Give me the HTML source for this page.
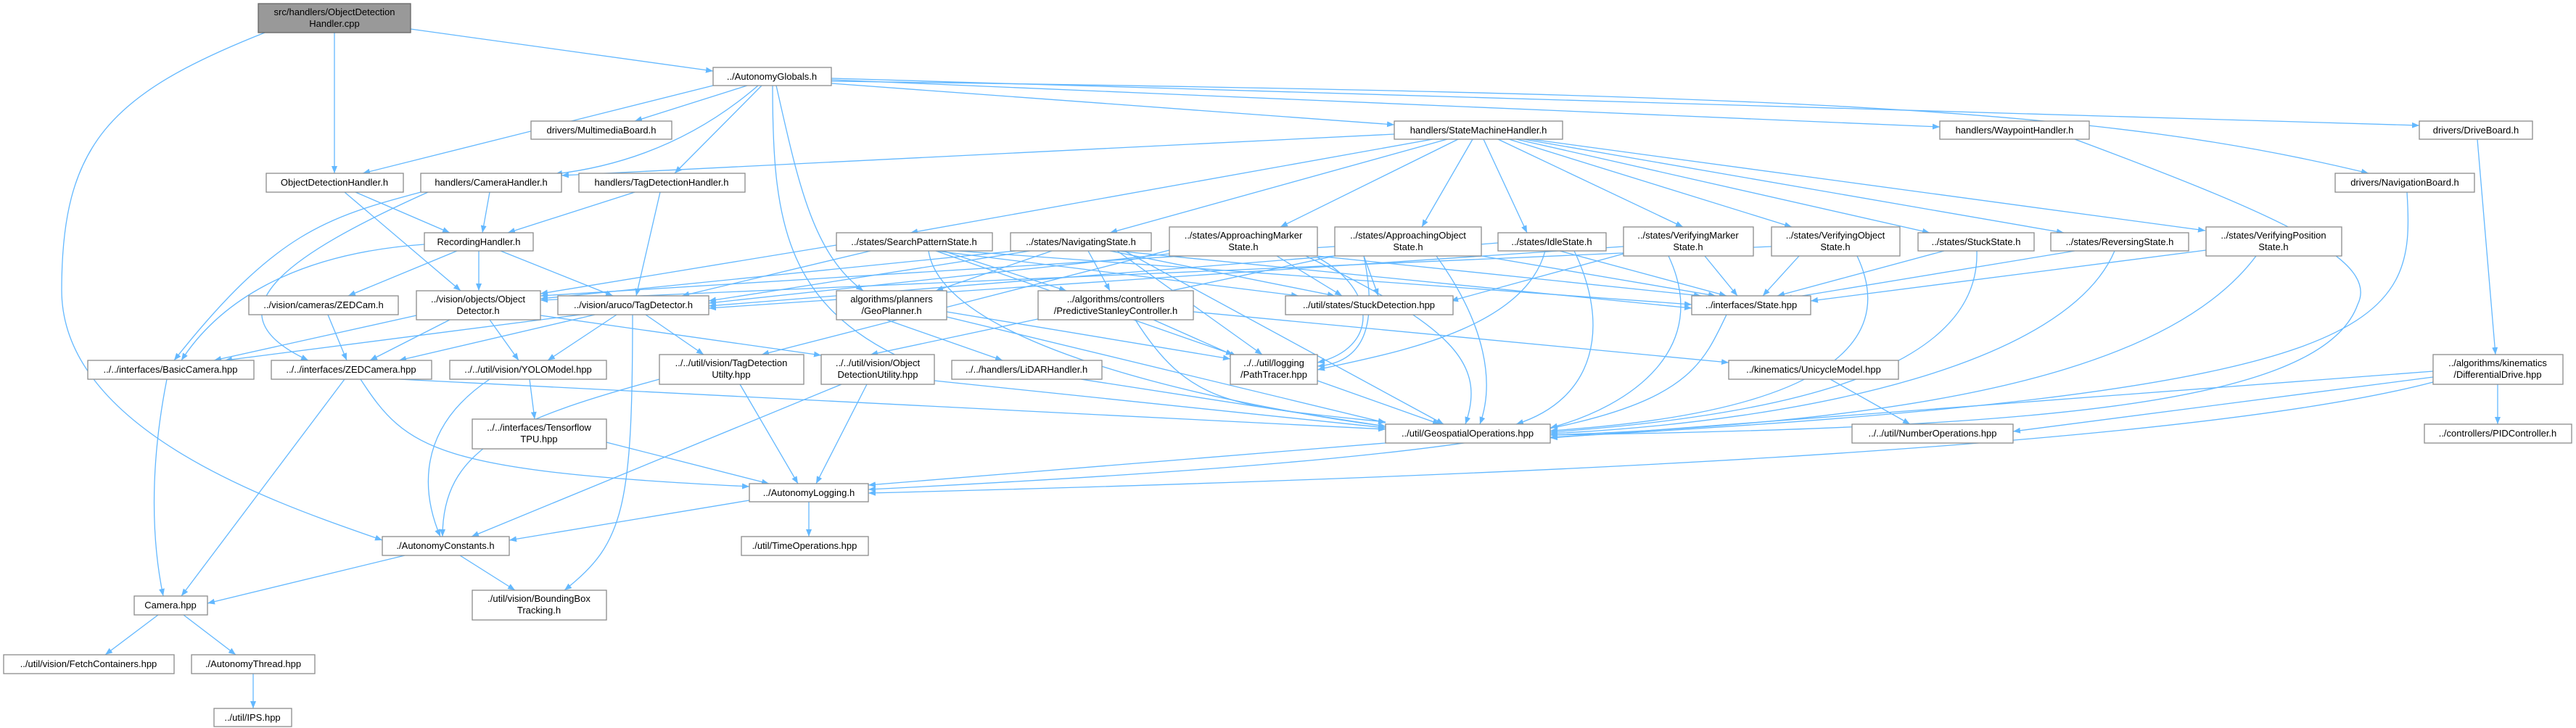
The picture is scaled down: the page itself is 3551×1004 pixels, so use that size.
<!DOCTYPE html>
<html><head><meta charset="utf-8"><style>
html,body{margin:0;padding:0;background:#fff;}
svg{display:block}
text{font-family:"Liberation Sans",sans-serif;font-size:13px;fill:#000;text-anchor:middle}
.n{fill:#fff;stroke:#8c8c8c;stroke-width:1.3}
.e{fill:none;stroke:#63b8ff;stroke-width:1.3}
</style></head><body>
<svg width="3551" height="1004" viewBox="0 0 3551 1004" xmlns="http://www.w3.org/2000/svg">
<defs><marker id="a" markerWidth="10" markerHeight="8" refX="10" refY="4" orient="auto" markerUnits="userSpaceOnUse"><path d="M0,0 L10,4 L0,8 z" fill="#63b8ff"/></marker></defs>
<g class="e" marker-end="url(#a)">
<path d="M461,45 L461,239"/>
<path d="M566,40 L983,98"/>
<path d="M365,45 C150,130 85,200 85,400 C85,600 400,700 527,745"/>
<path d="M983,118 L500,239"/>
<path d="M1030,118 L875,167"/>
<path d="M1045,118 C950,200 850,230 765,240"/>
<path d="M1050,118 L930,239"/>
<path d="M1146,115 L1922,172"/>
<path d="M1146,110 L2674,175"/>
<path d="M1146,108 L3335,173"/>
<path d="M1146,112 C2500,130 2900,150 3265,239"/>
<path d="M1070,118 C1100,250 1120,350 1190,401"/>
<path d="M1065,118 C1065,300 1080,420 1250,497"/>
<path d="M1922,185 L774,242"/>
<path d="M1975,192 L1255,321"/>
<path d="M1995,192 L1530,321"/>
<path d="M2010,192 L1765,313"/>
<path d="M2030,192 L1960,313"/>
<path d="M2045,192 L2105,321"/>
<path d="M2065,192 L2320,313"/>
<path d="M2080,192 L2470,313"/>
<path d="M2090,192 L2660,321"/>
<path d="M2100,192 L2845,321"/>
<path d="M2110,192 L3040,318"/>
<path d="M2860,192 C3150,300 3280,360 3250,420 C3200,560 2800,590 2137,600"/>
<path d="M3318,265 C3330,450 3300,540 2137,603"/>
<path d="M3415,192 L3440,489"/>
<path d="M3443,530 L3443,585"/>
<path d="M3354,520 L2775,595"/>
<path d="M3354,512 L2137,604"/>
<path d="M3354,527 C3000,620 2000,660 1197,680"/>
<path d="M490,265 L620,321"/>
<path d="M475,265 L635,401"/>
<path d="M675,265 L665,321"/>
<path d="M580,265 C450,300 380,320 240,497"/>
<path d="M590,265 C400,350 280,430 425,497"/>
<path d="M875,265 L700,321"/>
<path d="M910,265 L877,408"/>
<path d="M630,346 L480,408"/>
<path d="M660,346 L660,401"/>
<path d="M690,346 L845,408"/>
<path d="M585,337 C400,350 300,420 250,497"/>
<path d="M452,434 L478,497"/>
<path d="M574,435 L295,497"/>
<path d="M620,441 L510,497"/>
<path d="M675,441 L715,497"/>
<path d="M745,435 L1132,490"/>
<path d="M800,434 L310,497"/>
<path d="M820,434 L550,497"/>
<path d="M850,434 L755,497"/>
<path d="M890,434 L970,489"/>
<path d="M872,434 C872,700 860,750 778,814"/>
<path d="M230,523 C205,650 210,750 225,822"/>
<path d="M475,523 L250,822"/>
<path d="M497,523 C560,620 600,650 1033,671"/>
<path d="M550,523 L1910,592"/>
<path d="M675,523 C560,600 590,700 607,740"/>
<path d="M730,523 L737,578"/>
<path d="M836,610 L1060,667"/>
<path d="M1020,530 L1100,667"/>
<path d="M909,523 C700,580 610,620 610,740"/>
<path d="M1195,530 L1125,667"/>
<path d="M1160,530 L650,740"/>
<path d="M1288,525 L1910,590"/>
<path d="M1033,690 L702,745"/>
<path d="M1115,692 L1115,740"/>
<path d="M558,766 L286,832"/>
<path d="M634,766 L710,814"/>
<path d="M218,848 L145,903"/>
<path d="M253,848 L325,903"/>
<path d="M349,929 L349,977"/>
<path d="M1910,611 L1197,669"/>
<path d="M2380,434 C2320,560 2300,620 1197,675"/>
<path d="M2523,523 L2633,585"/>
<path d="M1222,441 L1382,497"/>
<path d="M1305,430 L1696,495"/>
<path d="M1305,437 L1910,583"/>
<path d="M1590,441 L1705,492"/>
<path d="M1565,441 C1640,560 1700,560 1910,582"/>
<path d="M1645,430 L2383,500"/>
<path d="M1816,525 L1985,585"/>
<path d="M1490,523 L1910,588"/>
<path d="M1153,338 L745,405"/>
<path d="M1200,346 L940,408"/>
<path d="M1320,346 L2332,420"/>
<path d="M1290,346 L1790,408"/>
<path d="M1280,346 C1300,480 1700,560 1910,588"/>
<path d="M1290,346 L1700,489"/>
<path d="M1300,346 L1470,401"/>
<path d="M1450,346 L1290,401"/>
<path d="M1500,346 L1530,401"/>
<path d="M1420,346 L977,415"/>
<path d="M1400,346 L745,412"/>
<path d="M1530,346 L1840,408"/>
<path d="M1540,346 L2332,425"/>
<path d="M1540,346 L1740,489"/>
<path d="M1550,346 L1990,585"/>
<path d="M1612,350 L977,418"/>
<path d="M1760,353 L1850,408"/>
<path d="M1816,353 L2345,408"/>
<path d="M1816,355 C1900,400 1900,480 1816,500"/>
<path d="M1800,353 C2000,450 2050,500 2020,585"/>
<path d="M1612,345 L1050,489"/>
<path d="M1840,340 L745,408"/>
<path d="M1880,353 L1900,408"/>
<path d="M2042,353 L2365,408"/>
<path d="M1880,353 C1900,450 1880,500 1816,505"/>
<path d="M1980,353 C2050,450 2060,530 2040,585"/>
<path d="M1840,353 L1200,489"/>
<path d="M2065,335 L977,422"/>
<path d="M2150,346 L2380,408"/>
<path d="M2130,346 C2100,460 1900,490 1816,510"/>
<path d="M2170,346 C2220,450 2200,550 2090,585"/>
<path d="M2238,340 L977,425"/>
<path d="M2350,353 L2395,408"/>
<path d="M2238,350 L2000,415"/>
<path d="M2300,353 C2360,480 2250,560 2137,590"/>
<path d="M2442,340 L745,414"/>
<path d="M2480,353 L2430,408"/>
<path d="M2560,353 C2620,480 2500,570 2137,594"/>
<path d="M2680,346 L2450,408"/>
<path d="M2725,346 C2730,500 2500,570 2137,596"/>
<path d="M2860,346 L2460,412"/>
<path d="M2915,346 C2850,500 2500,580 2137,598"/>
<path d="M3041,345 L2496,415"/>
<path d="M3110,353 C3000,500 2700,580 2137,600"/>
</g>
<g>
<rect x="356" y="5" width="210" height="40" fill="#999" stroke="#666" stroke-width="1.3"/>
<text x="461" y="21">src/handlers/ObjectDetection</text><text x="461" y="37">Handler.cpp</text>
<rect class="n" x="983" y="93" width="163" height="25"/><text x="1064" y="110">../AutonomyGlobals.h</text>
<rect class="n" x="732" y="167" width="194" height="25"/><text x="829" y="184">drivers/MultimediaBoard.h</text>
<rect class="n" x="1922" y="167" width="232" height="25"/><text x="2038" y="184">handlers/StateMachineHandler.h</text>
<rect class="n" x="2674" y="167" width="206" height="25"/><text x="2777" y="184">handlers/WaypointHandler.h</text>
<rect class="n" x="3335" y="167" width="156" height="25"/><text x="3413" y="184">drivers/DriveBoard.h</text>
<rect class="n" x="367" y="239" width="189" height="26"/><text x="461" y="256">ObjectDetectionHandler.h</text>
<rect class="n" x="580" y="239" width="194" height="26"/><text x="677" y="256">handlers/CameraHandler.h</text>
<rect class="n" x="798" y="239" width="229" height="26"/><text x="912" y="256">handlers/TagDetectionHandler.h</text>
<rect class="n" x="3219" y="239" width="192" height="26"/><text x="3315" y="256">drivers/NavigationBoard.h</text>
<rect class="n" x="585" y="321" width="150" height="25"/><text x="660" y="338">RecordingHandler.h</text>
<rect class="n" x="1153" y="321" width="215" height="25"/><text x="1260" y="338">../states/SearchPatternState.h</text>
<rect class="n" x="1393" y="321" width="194" height="25"/><text x="1490" y="338">../states/NavigatingState.h</text>
<rect class="n" x="1612" y="313" width="204" height="40"/><text x="1714" y="329">../states/ApproachingMarker</text><text x="1714" y="345">State.h</text>
<rect class="n" x="1840" y="313" width="202" height="40"/><text x="1941" y="329">../states/ApproachingObject</text><text x="1941" y="345">State.h</text>
<rect class="n" x="2065" y="321" width="149" height="25"/><text x="2139" y="338">../states/IdleState.h</text>
<rect class="n" x="2238" y="313" width="179" height="40"/><text x="2327" y="329">../states/VerifyingMarker</text><text x="2327" y="345">State.h</text>
<rect class="n" x="2442" y="313" width="177" height="40"/><text x="2530" y="329">../states/VerifyingObject</text><text x="2530" y="345">State.h</text>
<rect class="n" x="2644" y="321" width="160" height="25"/><text x="2724" y="338">../states/StuckState.h</text>
<rect class="n" x="2827" y="321" width="190" height="25"/><text x="2922" y="338">../states/ReversingState.h</text>
<rect class="n" x="3041" y="313" width="187" height="40"/><text x="3134" y="329">../states/VerifyingPosition</text><text x="3134" y="345">State.h</text>
<rect class="n" x="343" y="408" width="206" height="26"/><text x="446" y="425">../vision/cameras/ZEDCam.h</text>
<rect class="n" x="574" y="401" width="171" height="40"/><text x="659" y="417">../vision/objects/Object</text><text x="659" y="433">Detector.h</text>
<rect class="n" x="769" y="408" width="208" height="26"/><text x="873" y="425">../vision/aruco/TagDetector.h</text>
<rect class="n" x="1153" y="401" width="152" height="40"/><text x="1229" y="417">algorithms/planners</text><text x="1229" y="433">/GeoPlanner.h</text>
<rect class="n" x="1431" y="401" width="214" height="40"/><text x="1538" y="417">../algorithms/controllers</text><text x="1538" y="433">/PredictiveStanleyController.h</text>
<rect class="n" x="1772" y="408" width="231" height="26"/><text x="1887" y="425">../util/states/StuckDetection.hpp</text>
<rect class="n" x="2332" y="408" width="164" height="26"/><text x="2414" y="425">../interfaces/State.hpp</text>
<rect class="n" x="121" y="497" width="229" height="26"/><text x="235" y="514">../../interfaces/BasicCamera.hpp</text>
<rect class="n" x="374" y="497" width="221" height="26"/><text x="484" y="514">../../interfaces/ZEDCamera.hpp</text>
<rect class="n" x="620" y="497" width="216" height="26"/><text x="728" y="514">../../util/vision/YOLOModel.hpp</text>
<rect class="n" x="909" y="489" width="199" height="41"/><text x="1008" y="505">../../util/vision/TagDetection</text><text x="1008" y="521">Utilty.hpp</text>
<rect class="n" x="1132" y="489" width="156" height="41"/><text x="1210" y="505">../../util/vision/Object</text><text x="1210" y="521">DetectionUtility.hpp</text>
<rect class="n" x="1312" y="497" width="207" height="26"/><text x="1415" y="514">../../handlers/LiDARHandler.h</text>
<rect class="n" x="1696" y="489" width="120" height="41"/><text x="1756" y="505">../../util/logging</text><text x="1756" y="521">/PathTracer.hpp</text>
<rect class="n" x="2383" y="497" width="234" height="26"/><text x="2500" y="514">../kinematics/UnicycleModel.hpp</text>
<rect class="n" x="3354" y="489" width="179" height="41"/><text x="3443" y="505">../algorithms/kinematics</text><text x="3443" y="521">/DifferentialDrive.hpp</text>
<rect class="n" x="651" y="578" width="185" height="41"/><text x="743" y="594">../../interfaces/Tensorflow</text><text x="743" y="610">TPU.hpp</text>
<rect class="n" x="1910" y="585" width="227" height="26"/><text x="2023" y="602">../util/GeospatialOperations.hpp</text>
<rect class="n" x="2553" y="585" width="222" height="26"/><text x="2664" y="602">../../util/NumberOperations.hpp</text>
<rect class="n" x="3342" y="585" width="203" height="26"/><text x="3443" y="602">../controllers/PIDController.h</text>
<rect class="n" x="1033" y="667" width="164" height="25"/><text x="1115" y="684">../AutonomyLogging.h</text>
<rect class="n" x="527" y="740" width="175" height="26"/><text x="614" y="757">./AutonomyConstants.h</text>
<rect class="n" x="1022" y="740" width="175" height="26"/><text x="1109" y="757">./util/TimeOperations.hpp</text>
<rect class="n" x="651" y="814" width="185" height="41"/><text x="743" y="830">./util/vision/BoundingBox</text><text x="743" y="846">Tracking.h</text>
<rect class="n" x="185" y="822" width="101" height="26"/><text x="235" y="839">Camera.hpp</text>
<rect class="n" x="5" y="903" width="235" height="26"/><text x="122" y="920">../util/vision/FetchContainers.hpp</text>
<rect class="n" x="264" y="903" width="170" height="26"/><text x="349" y="920">./AutonomyThread.hpp</text>
<rect class="n" x="295" y="977" width="107" height="25"/><text x="348" y="994">../util/IPS.hpp</text>
</g>
</svg>
</body></html>
